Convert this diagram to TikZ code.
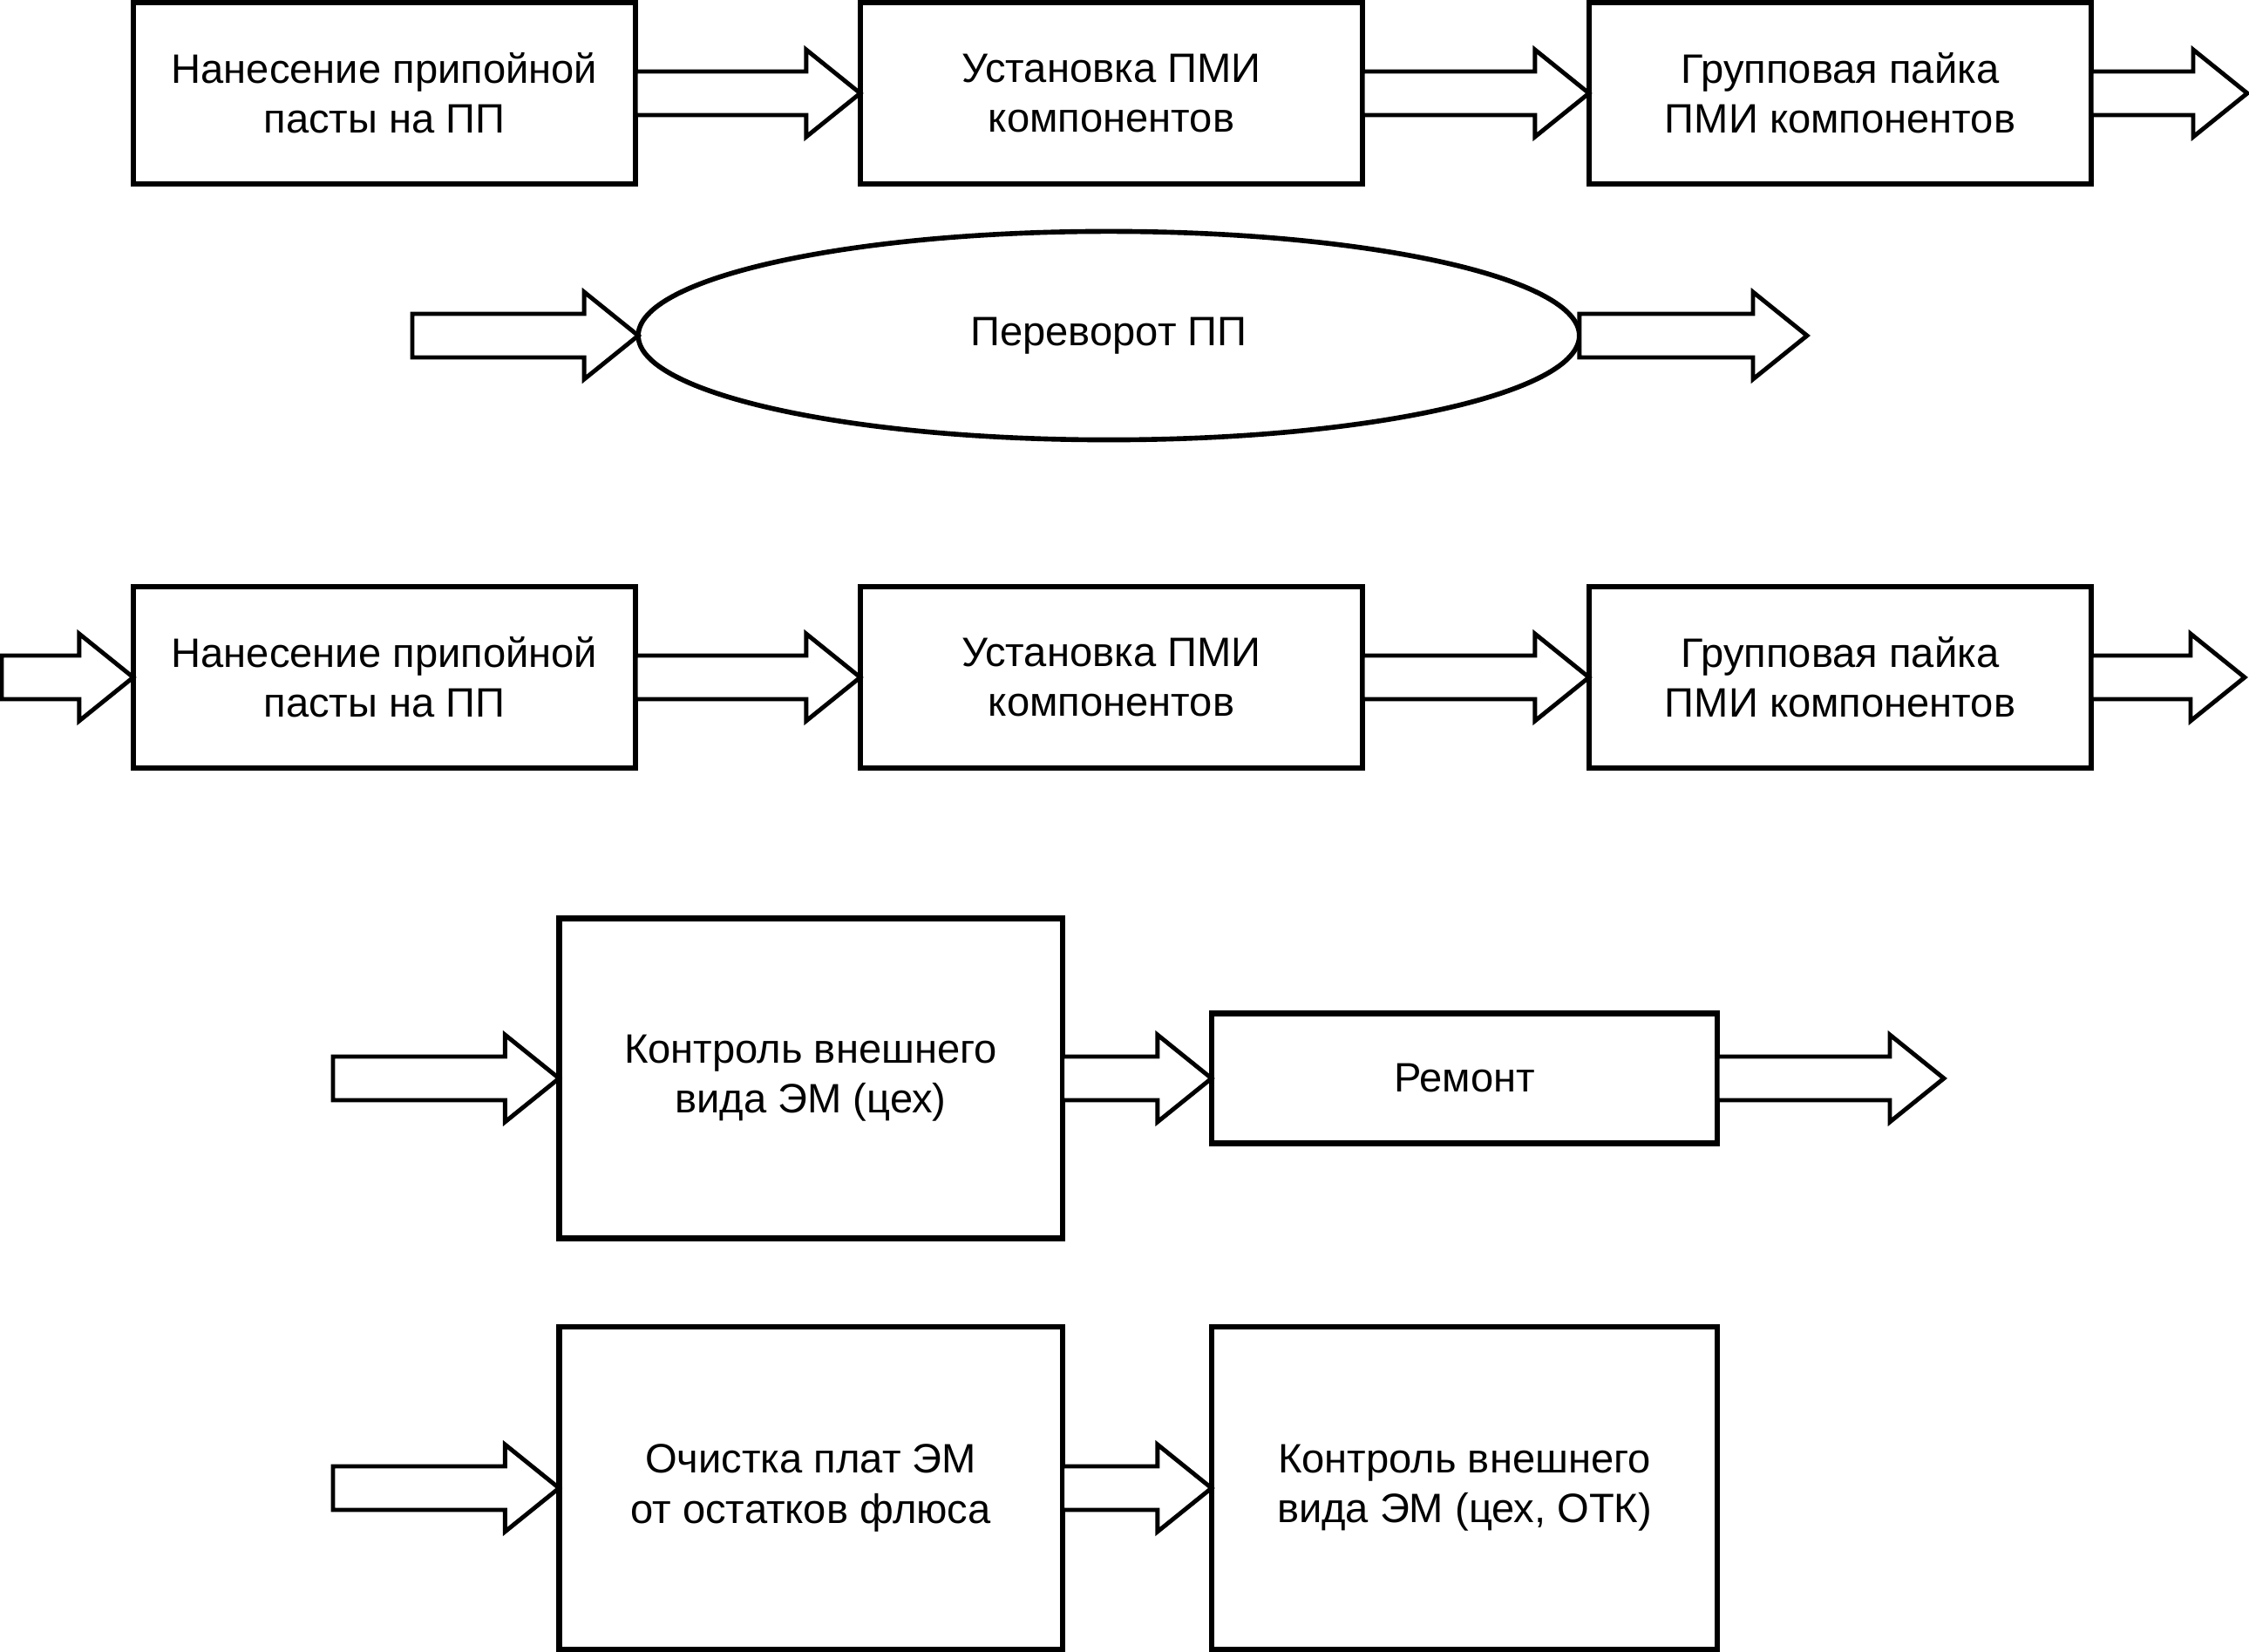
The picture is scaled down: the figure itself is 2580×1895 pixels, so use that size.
\documentclass[tikz,border=0pt]{standalone}
\usepackage{fontspec}
\setmainfont{Liberation Sans}
\usetikzlibrary{calc,shapes.geometric}
\newcommand{\blockarrow}[2]{%
  \draw[barrow] ($(#1)+(0,-25)$) -- ($(#2)+(-62,-25)$) -- ($(#2)+(-62,-50)$) -- (#2)
    -- ($(#2)+(-62,50)$) -- ($(#2)+(-62,25)$) -- ($(#1)+(0,25)$) -- cycle;}
\begin{document}
\begin{tikzpicture}[x=0.01cm,y=-0.01cm,
  txt/.style={align=center,inner sep=0pt,outer sep=0pt,font=\fontsize{13.4}{16.3}\selectfont},
  box/.style={txt,draw,line width=1.8pt,minimum width=5.76cm,minimum height=2.08cm},
  ovalbox/.style={txt,draw,ellipse,line width=1.6pt,minimum width=10.79cm,minimum height=2.39cm},
  barrow/.style={draw,fill=white,line width=1.4pt,line join=miter}]
\useasboundingbox (0,0) rectangle (2580,1895);
% row 1
\node[box] (r1a) at (441,107) {Нанесение припойной\\пасты на ПП};
\node[box] (r1b) at (1275,107) {Установка ПМИ\\компонентов};
\node[box] (r1c) at (2111,107) {Групповая пайка\\ПМИ компонентов};
\coordinate (r1end) at (2578,107);
\blockarrow{r1a.east}{r1b.west}
\blockarrow{r1b.east}{r1c.west}
\blockarrow{r1c.east}{r1end}
% row 2
\node[ovalbox] (ell) at (1272,385) {Переворот ПП};
\coordinate (ellin) at (473,385);
\coordinate (ellout) at (2073,385);
\blockarrow{ellin}{ell.west}
\blockarrow{ell.east}{ellout}
% row 3
\node[box] (r3a) at (441,777) {Нанесение припойной\\пасты на ПП};
\node[box] (r3b) at (1275,777) {Установка ПМИ\\компонентов};
\node[box] (r3c) at (2111,777) {Групповая пайка\\ПМИ компонентов};
\coordinate (r3in) at (2,777);
\coordinate (r3end) at (2575,777);
\blockarrow{r3in}{r3a.west}
\blockarrow{r3a.east}{r3b.west}
\blockarrow{r3b.east}{r3c.west}
\blockarrow{r3c.east}{r3end}
% row 4
\node[box,minimum width=5.77cm,minimum height=3.67cm] (k1) at (930,1237) {Контроль внешнего\\вида ЭМ (цех)};
\node[box,minimum width=5.80cm,minimum height=1.49cm] (rem) at (1680,1237) {Ремонт};
\coordinate (r4in) at (382,1237);
\coordinate (r4end) at (2230,1237);
\blockarrow{r4in}{k1.west}
\blockarrow{k1.east}{rem.west}
\blockarrow{rem.east}{r4end}
% row 5
\node[box,minimum width=5.77cm,minimum height=3.70cm] (c1) at (930,1707) {Очистка плат ЭМ\\от остатков флюса};
\node[box,minimum width=5.80cm,minimum height=3.70cm] (k2) at (1680,1707) {Контроль внешнего\\вида ЭМ (цех, ОТК)};
\coordinate (r5in) at (382,1707);
\blockarrow{r5in}{c1.west}
\blockarrow{c1.east}{k2.west}
\end{tikzpicture}
\end{document}
